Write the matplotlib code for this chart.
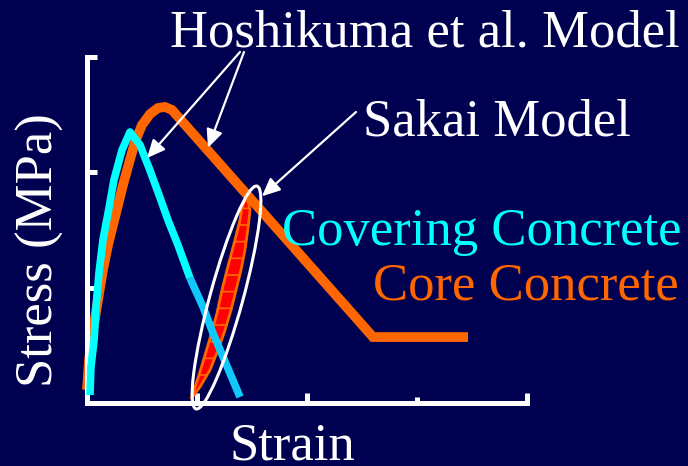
import matplotlib
matplotlib.use("Agg")
import matplotlib.pyplot as plt
from matplotlib.patches import Ellipse, Polygon

# stress-strain data (strain / stress in tick units)
core_strain = [0.0, 0.018, 0.055, 0.100, 0.145, 0.191, 0.236, 0.282, 0.327, 0.382, 0.436, 0.500,
               0.573, 0.645, 0.709, 0.773, 2.600, 3.464]
core_stress = [0.113, 0.372, 0.632, 0.892, 1.152, 1.368, 1.541, 1.714, 1.887, 2.078, 2.260, 2.407,
               2.502, 2.554, 2.563, 2.537, 0.571, 0.571]

cover_strain = [0.027, 0.036, 0.064, 0.082, 0.109, 0.145, 0.200, 0.245, 0.318, 0.391, 0.482, 0.564,
                0.655, 0.736, 0.827, 0.936]
cover_stress = [0.069, 0.312, 0.545, 0.831, 1.126, 1.411, 1.688, 1.931, 2.190, 2.346, 2.234, 2.035,
                1.801, 1.584, 1.368, 1.082]
cover_tail_strain = [0.936, 1.055, 1.145, 1.391]
cover_tail_stress = [1.082, 0.831, 0.606, 0.052]

sakai_reload_strain = [0.945, 1.027, 1.118, 1.191, 1.255, 1.309, 1.355, 1.400, 1.436, 1.464, 1.482, 1.455]
sakai_reload_stress = [0.035, 0.139, 0.286, 0.459, 0.632, 0.805, 0.978, 1.152, 1.325, 1.515, 1.671, 1.784]
sakai_unload_strain = [1.455, 1.409, 1.391, 1.345, 1.309, 1.273, 1.227, 1.182, 1.127, 1.073, 1.018, 0.973, 0.945]
sakai_unload_stress = [1.784, 1.697, 1.584, 1.411, 1.281, 1.152, 0.978, 0.779, 0.589, 0.416, 0.242, 0.113, 0.035]

BG = "#000050"
ORANGE = "#FF6600"
CYAN = "#00FFFF"
CYAN2 = "#10C8FA"
FONT = "Liberation Serif"

W, H = 688, 466
plt.rcParams["hatch.linewidth"] = 1.3
fig = plt.figure(figsize=(W / 100, H / 100), dpi=100, facecolor=BG)
def px(x, y): return (x / 100, (H - y) / 100)

ax = fig.add_axes([87 / W, (H - 403) / H, 440 / W, 346.5 / H], facecolor=BG)
ax.set_xlim(0, 4); ax.set_ylim(0, 3)
for s in ("top", "right"): ax.spines[s].set_visible(False)
for s in ("left", "bottom"):
    ax.spines[s].set_color("white"); ax.spines[s].set_linewidth(3.6); ax.spines[s].set_capstyle("projecting")
ax.set_xticks([1, 2, 4]); ax.set_xticks([3], minor=True)
ax.set_yticks([1, 2, 3])
ax.tick_params(which="major", direction="in", color="white", width=3.6, length=7, labelleft=False, labelbottom=False)
ax.tick_params(which="minor", direction="in", color="white", width=3.6, length=4)

ax.plot(core_strain, core_stress, color=ORANGE, lw=7, solid_joinstyle="miter", solid_capstyle="butt", clip_on=False, zorder=2)

lens = Polygon(list(zip(sakai_reload_strain + sakai_unload_strain, sakai_reload_stress + sakai_unload_stress)),
               closed=True, facecolor="#FF0000", edgecolor=ORANGE, lw=2, hatch="-", zorder=3)
ax.add_patch(lens)

ax.plot(cover_strain, cover_stress, color=CYAN, lw=5.5, solid_capstyle="butt", clip_on=False, zorder=4)
ax.plot(cover_tail_strain, cover_tail_stress, color=CYAN2, lw=5.5, solid_capstyle="butt", clip_on=False, zorder=4)

# ellipse around Sakai loops (figure pixels -> inches)
el = Ellipse(px(226.5, 297.5), 231 / 100, 33 / 100, angle=74.7, transform=fig.dpi_scale_trans,
             fill=False, edgecolor="white", lw=2.2, zorder=6)
fig.add_artist(el)

arrow = dict(arrowstyle="-|>,head_length=0.55,head_width=0.25", color="white", lw=1.6,
             mutation_scale=20, shrinkA=0, shrinkB=0)
for tail, tip in [((240, 52), (0.545, 2.12)), ((244, 52), (1.10, 2.21)), ((356, 112), (1.59, 1.79))]:
    ax.annotate("", xy=tip, xycoords="data", xytext=px(*tail), textcoords=fig.dpi_scale_trans,
                arrowprops=arrow, zorder=7, annotation_clip=False)

tk = dict(transform=fig.dpi_scale_trans, fontfamily=FONT, fontsize=38)
fig.text(*px(425, 47), "Hoshikuma et al. Model", color="white", ha="center", va="baseline", **tk)
fig.text(*px(497, 135), "Sakai Model", color="white", ha="center", va="baseline", **tk)
fig.text(*px(681, 245), "Covering Concrete", color=CYAN, ha="right", va="baseline", **tk)
fig.text(*px(679, 300), "Core Concrete", color=ORANGE, ha="right", va="baseline", **tk)
fig.text(*px(292, 459), "Strain", color="white", ha="center", va="baseline", **tk)
fig.text(*px(40, 250), "Stress (MPa)", color="white", ha="center", va="center", rotation=90, **tk)

fig.savefig("out.png", dpi=100, facecolor=BG)
